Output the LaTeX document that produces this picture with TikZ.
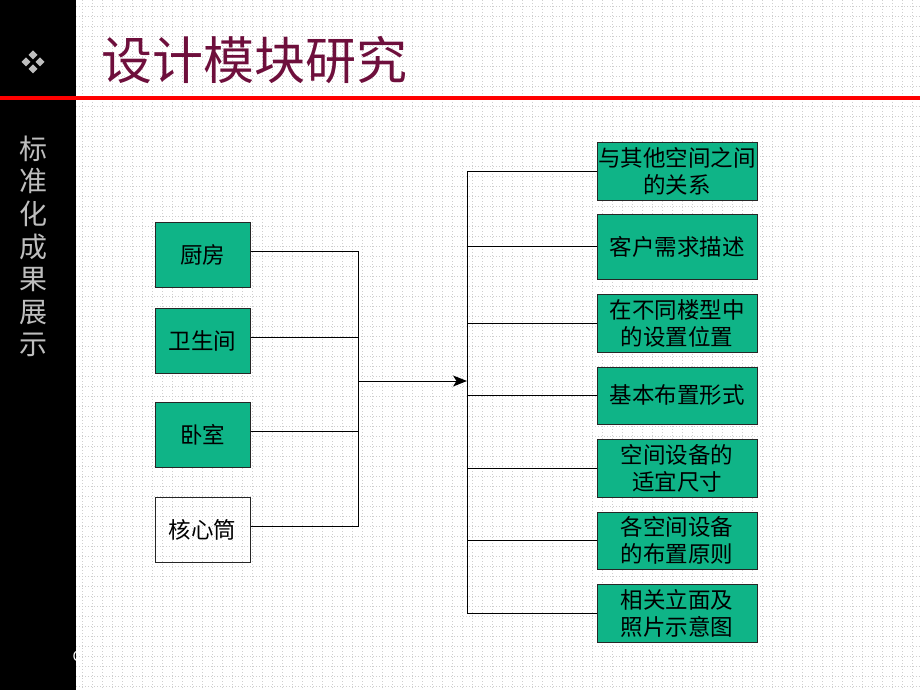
\documentclass[tikz,border=0pt]{standalone}
\usepackage{fontspec}
\setmainfont{Noto Sans CJK SC}
\usetikzlibrary{positioning,arrows.meta}
\definecolor{boxgreen}{RGB}{15,180,135}
\definecolor{titlered}{RGB}{110,15,60}
\definecolor{sidegray}{RGB}{190,190,190}

\begin{document}
\begin{tikzpicture}[x=1pt,y=-1pt]
    \tikzset{
      box/.style = {draw=black!85, line width=1pt, fill=boxgreen,
      minimum width=95pt, minimum height=65pt, inner sep=0pt,
      font=\fontsize{22.5}{27}\selectfont, align=center},
      item/.style = {box, minimum width=160pt, minimum height=58pt},
      wire/.style = {line width=1pt, black},
      griddot/.style = {gray!38, line width=0.7pt, dash pattern=on 1pt off 2pt}
    }
    \useasboundingbox (0,0) rectangle (920,690);

    % background
    \fill[white] (0,0) rectangle (920,690);
    \foreach \gx in {82,92,...,912} \draw[griddot] (\gx,0) -- (\gx,690);
    \foreach \gy in {6,16,...,686} \draw[griddot] (76,\gy) -- (920,\gy);
    \fill[black] (0,0) rectangle (76,690);
    \draw[red, line width=4pt] (0,98.5) -- (920,98.5);

    \foreach \dx/\dy in {0/-7,0/7,-7/0,7/0}
      \fill[sidegray] (33+\dx,62+\dy) ++(0,-4.5) -- ++(4.5,4.5) -- ++(-4.5,4.5) -- ++(-4.5,-4.5) -- cycle;

    \node[text=titlered, font=\fontsize{51}{57}\selectfont] (title) at (254,60) {设计模块研究};
    \node[text=sidegray, font=\fontsize{28}{32.6}\selectfont, align=center] (side) at (33,246.5)
      {标\\准\\化\\成\\果\\展\\示};
    \node[text=white, font=\fontsize{14}{16}\selectfont] (c) at (77,656) {C};

    \node[box] (k1) at (202.5,254.5) {厨房};
    \node[box, below=20pt of k1] (k2) {卫生间};
    \node[box, below=28pt of k2] (k3) {卧室};
    \node[box, fill=none, below=29pt of k3] (k4) {核心筒};

    \node[item] (r1) at (677,171) {与其他空间之间\\的关系};
    \node[item, minimum height=65pt, below=13pt of r1] (r2) {客户需求描述};
    \node[item, below=14pt of r2] (r3) {在不同楼型中\\的设置位置};
    \node[item, minimum height=57pt, below=14pt of r3] (r4) {基本布置形式};
    \node[item, below=14pt of r4] (r5) {空间设备的\\适宜尺寸};
    \node[item, minimum height=57pt, below=14pt of r5] (r6) {各空间设备\\的布置原则};
    \node[item, below=14pt of r6] (r7) {相关立面及\\照片示意图};

    \coordinate (busL) at (358,0);
    \coordinate (busR) at (467,0);
    \coordinate (mid) at (358,381);

    \draw[wire] ([yshift=3.5pt]k1.east) -- ([yshift=3.5pt]k1.east -| busL)
      -- ([yshift=3.5pt]k4.east -| busL) -- ([yshift=3.5pt]k4.east);
    \foreach \k in {k2,k3}
      \draw[wire] ([yshift=3.5pt]\k.east) -- ([yshift=3.5pt]\k.east -| busL);
    \draw[wire, -{Stealth[length=14pt,width=11pt,inset=3.5pt]}] (mid) -- (mid -| busR);

    \draw[wire] (r1.west) -- (r1.west -| busR) -- (r7.west -| busR) -- (r7.west);
    \foreach \r in {r2,r3,r4,r5,r6}
      \draw[wire] (\r.west) -- (\r.west -| busR);
\end{tikzpicture}
\end{document}
